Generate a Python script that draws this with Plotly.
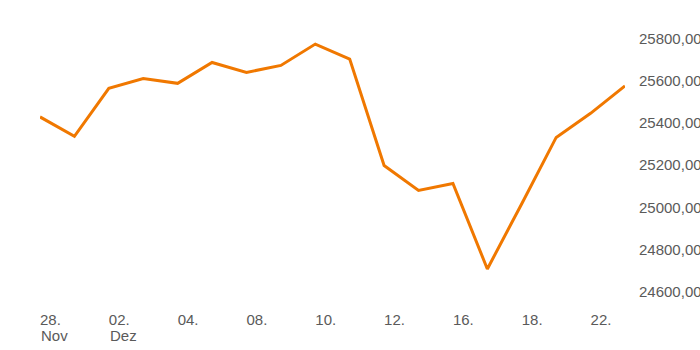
import plotly.graph_objects as go

dates = ["2025-11-28", "2025-12-01", "2025-12-02", "2025-12-03", "2025-12-04",
         "2025-12-05", "2025-12-08", "2025-12-09", "2025-12-10", "2025-12-11",
         "2025-12-12", "2025-12-15", "2025-12-16", "2025-12-17", "2025-12-18",
         "2025-12-19", "2025-12-22", "2025-12-23"]
values = [25428, 25336, 25563, 25610, 25587, 25686, 25639, 25672, 25773, 25702,
          25198, 25080, 25113, 24708, 25017, 25331, 25445, 25575]
tick_idx = [0, 2, 4, 6, 8, 10, 12, 14, 16]
tick_labels = ["28.", "02.", "04.", "08.", "10.", "12.", "16.", "18.", "22."]
month_idx = [0, 2]
month_labels = ["Nov", "Dez"]
y_ticks = [24600, 24800, 25000, 25200, 25400, 25600, 25800]

x = list(range(len(values)))
FONT = "Liberation Sans, Arial, sans-serif"
TXT = "#5a5a5a"

fig = go.Figure()
fig.add_trace(go.Scatter(
    x=x, y=values, mode="lines",
    line=dict(color="#f07800", width=3),
    customdata=dates, hoverinfo="skip",
))

for mi, ml in zip(month_idx, month_labels):
    fig.add_annotation(
        x=mi, xref="x", y=-0.128, yref="paper",
        text=ml, showarrow=False, xanchor="left", yanchor="middle",
        xshift=-1,
        font=dict(family=FONT, size=15, color=TXT),
    )

fig.update_layout(
    width=700, height=350,
    margin=dict(l=40, r=75, t=20, b=50),
    paper_bgcolor="white", plot_bgcolor="white",
    showlegend=False,
    separators=",.",
    font=dict(family=FONT, size=15, color=TXT),
)
fig.update_xaxes(
    range=[0, len(values) - 1],
    tickmode="array", tickvals=tick_idx, ticktext=tick_labels,
    ticklabelposition="outside right",
    showgrid=False, zeroline=False, showline=False, ticks="",
    ticklabelstandoff=9,
    automargin=False,
    fixedrange=True,
)
fig.update_yaxes(
    side="right",
    range=[24561, 25887],
    tickmode="array", tickvals=y_ticks, tickformat=".2f",
    showgrid=False, zeroline=False, showline=False, ticks="",
    ticklabelstandoff=13,
    automargin=False,
    fixedrange=True,
)

fig.write_html("out.html")
